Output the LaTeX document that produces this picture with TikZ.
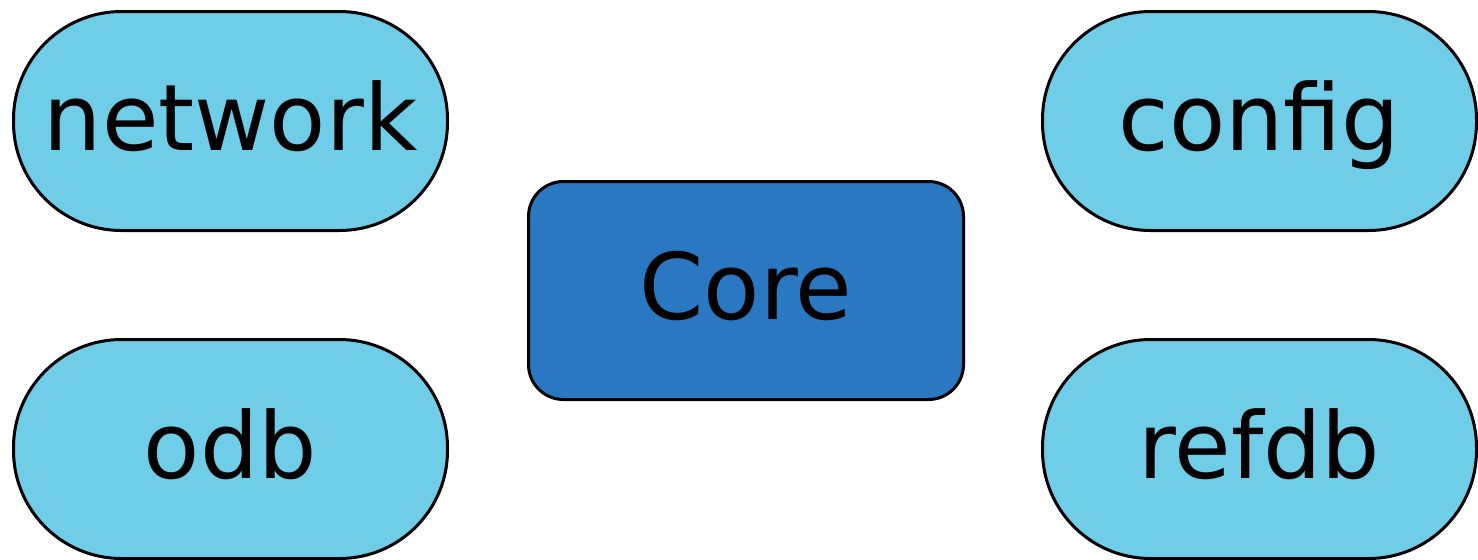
\documentclass[tikz,border=0pt]{standalone}
\usepackage{fontspec}
\setmainfont{DejaVu Sans}
\usetikzlibrary{positioning}
\definecolor{modfill}{HTML}{6FCDE8}
\definecolor{corefill}{HTML}{2A77C2}
\tikzset{
  font=\fontsize{46}{52}\selectfont,
  module/.style={
    draw,
    line width=1.5pt,
    fill=modfill,
    minimum width=217pt,
    minimum height=109.5pt,
    rounded corners=54pt,
    inner sep=0pt,
    text height=35pt,
    text depth=6pt,
    rectangle
  },
  core/.style={
    module,
    fill=corefill,
    minimum height=109pt,
    minimum width=217.5pt,
    rounded corners=17.5pt
  }
}
\begin{document}
\begin{tikzpicture}[x=1pt,y=1pt]
\useasboundingbox (0,0) rectangle (739,-279.5);
\node[core]   (core)    at (373,-145.25)    {Core};
\node[module] (network) at (115.25,-60.5)   {network};
\node[module] (odb)     at (115.25,-224.5)  {odb};
\node[module] (config)  at (629.75,-60.5)   {config};
\node[module] (refdb)   at (629.75,-224.5)  {refdb};
\end{tikzpicture}
\end{document}
